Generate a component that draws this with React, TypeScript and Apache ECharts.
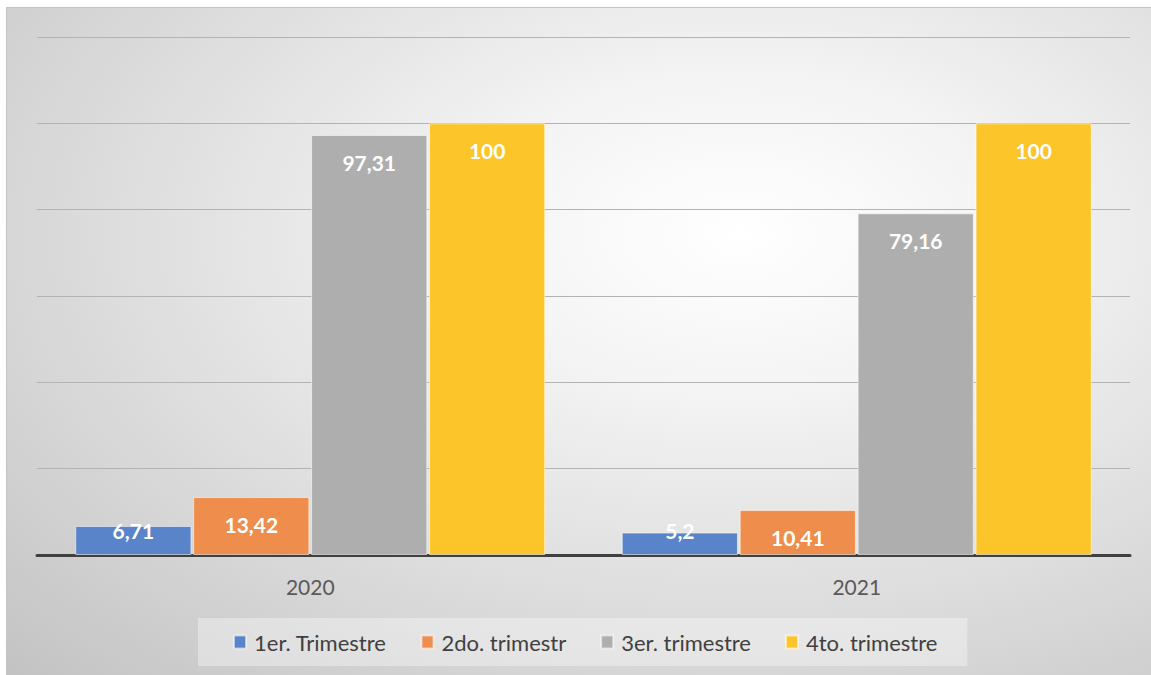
import React, { useEffect, useRef } from "react";
import * as echarts from "echarts";

const categories = ["2020", "2021"];
const seriesNames = ["1er. Trimestre", "2do. trimestr", "3er. trimestre", "4to. trimestre"];
const q1 = [6.71, 5.2];
const q2 = [13.42, 10.41];
const q3 = [97.31, 79.16];
const q4 = [100, 100];
const seriesValues = [q1, q2, q3, q4];
const colors = ["#5A84C9", "#EE8D4C", "#AEAEAE", "#FCC52A"];
const yTicks = { min: 0, max: 120, interval: 20 };

const FONT = "Lato";

export default function App() {
  const ref = useRef<HTMLDivElement>(null);
  useEffect(() => {
    if (!ref.current) return;
    const chart = echarts.init(ref.current, undefined, { renderer: "svg" });
    const fmt = (v: number) => String(v).replace(".", ",");
    chart.setOption({
      animation: false,
      backgroundColor: "transparent",
      textStyle: { fontFamily: FONT },
      grid: { left: 30, right: 21, top: 29, bottom: 120, containLabel: false },
      legend: {
        data: seriesNames,
        left: 191,
        top: 610,
        padding: [13, 30, 13, 35],
        backgroundColor: "rgba(255,255,255,0.35)",
        itemWidth: 12,
        itemHeight: 13,
        itemGap: 34,
        icon: "rect",
        textStyle: { fontFamily: FONT, fontSize: 22, color: "#404040", padding: [0, 0, 0, 3] },
      },
      xAxis: {
        type: "category",
        data: categories,
        axisLine: { show: true, lineStyle: { color: "#404040", width: 3 } },
        axisTick: { show: false },
        axisLabel: { fontFamily: FONT, fontSize: 21, color: "#595959", margin: 21 },
      },
      yAxis: {
        type: "value",
        min: yTicks.min,
        max: yTicks.max,
        interval: yTicks.interval,
        axisLabel: { show: false },
        axisLine: { show: false },
        axisTick: { show: false },
        splitLine: { lineStyle: { color: "#b3b3b3", width: 1 } },
      },
      series: seriesValues.map((vals, i) => ({
        name: seriesNames[i],
        type: "bar",
        barCategoryGap: "14%",
        barGap: "1.5%",
        itemStyle: { color: colors[i], borderColor: "rgba(255,255,255,0.55)", borderWidth: 1 },
        label: {
          show: true,
          position: "insideTop",
          distance: 17,
          color: "#ffffff",
          fontFamily: FONT,
          fontWeight: "bold",
          fontSize: 21,
          formatter: (p: any) => fmt(p.value),
        },
        data: vals.map((v) =>
          v < 10 ? { value: v, label: { position: "insideBottom", distance: 14 } } : v
        ),
      })),
    });
    return () => chart.dispose();
  }, []);
  return (
    <div
      ref={ref}
      style={{
        position: "absolute",
        left: 6,
        top: 7,
        width: 1145,
        height: 668,
        boxSizing: "border-box",
        borderTop: "1px solid #c4c4c4",
        borderLeft: "1px solid #c4c4c4",
        background:
          "radial-gradient(ellipse farthest-corner at 64% 34%, #ffffff 0%, #f4f4f4 25%, #c3c3c3 100%)",
      }}
    />
  );
}
